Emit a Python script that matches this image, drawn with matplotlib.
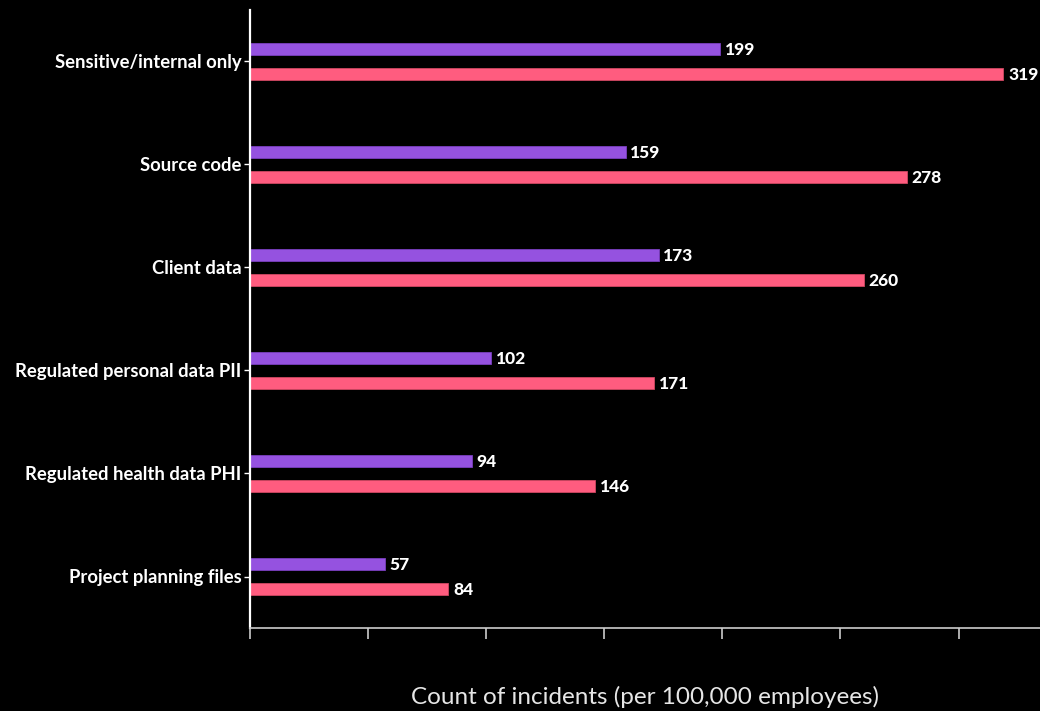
import matplotlib
matplotlib.use("Agg")
import matplotlib.pyplot as plt
import numpy as np

categories = ["Sensitive/internal only", "Source code", "Client data",
              "Regulated personal data PII", "Regulated health data PHI",
              "Project planning files"]
series_a = [199, 159, 173, 102, 94, 57]   # purple
series_b = [319, 278, 260, 171, 146, 84]  # pink

plt.rcParams['font.family'] = ['Lato', 'DejaVu Sans']

fig = plt.figure(figsize=(10.4, 7.11), dpi=100, facecolor="black")
ax = fig.add_axes([250 / 1040, 1 - 628 / 711, 790 / 1040, 618 / 711])
ax.set_facecolor("black")

y = np.arange(len(categories))
h = 0.125
off = 0.121
bars_a = ax.barh(y - off, series_a, height=h, color="#9552e0", edgecolor="#7a3fc0", linewidth=0.6)
bars_b = ax.barh(y + off, series_b, height=h, color="#ff5c7f", edgecolor="#d04862", linewidth=0.6)

for bars, vals in ((bars_a, series_a), (bars_b, series_b)):
    for b, v in zip(bars, vals):
        ax.text(b.get_width() + 2, b.get_y() + b.get_height() / 2 + 0.01, str(v),
                color="white", fontsize=12.5, fontweight="black", va="center", ha="left")

ax.set_xlim(0, 334.5)
ax.set_ylim(len(categories) - 0.5, -0.5)
ax.set_yticks(y)
ax.set_yticklabels(categories, color="white", fontsize=13.3, fontweight="bold")
ax.set_xticks(np.arange(0, 301, 50))
ax.set_xticklabels([])

for s in ("top", "right"):
    ax.spines[s].set_visible(False)
ax.spines["left"].set_color("white")
ax.spines["left"].set_linewidth(1.6)
ax.spines["bottom"].set_color("#cccccc")
ax.spines["bottom"].set_linewidth(1.2)
ax.tick_params(axis="y", colors="white", length=4, width=1, pad=2)
ax.tick_params(axis="x", colors="#cccccc", length=8, width=1.2)

ax.set_xlabel("Count of incidents (per 100,000 employees)", color="#e6e6e6",
              fontsize=17.5, labelpad=30)

fig.savefig("out.png", dpi=100, facecolor="black")
